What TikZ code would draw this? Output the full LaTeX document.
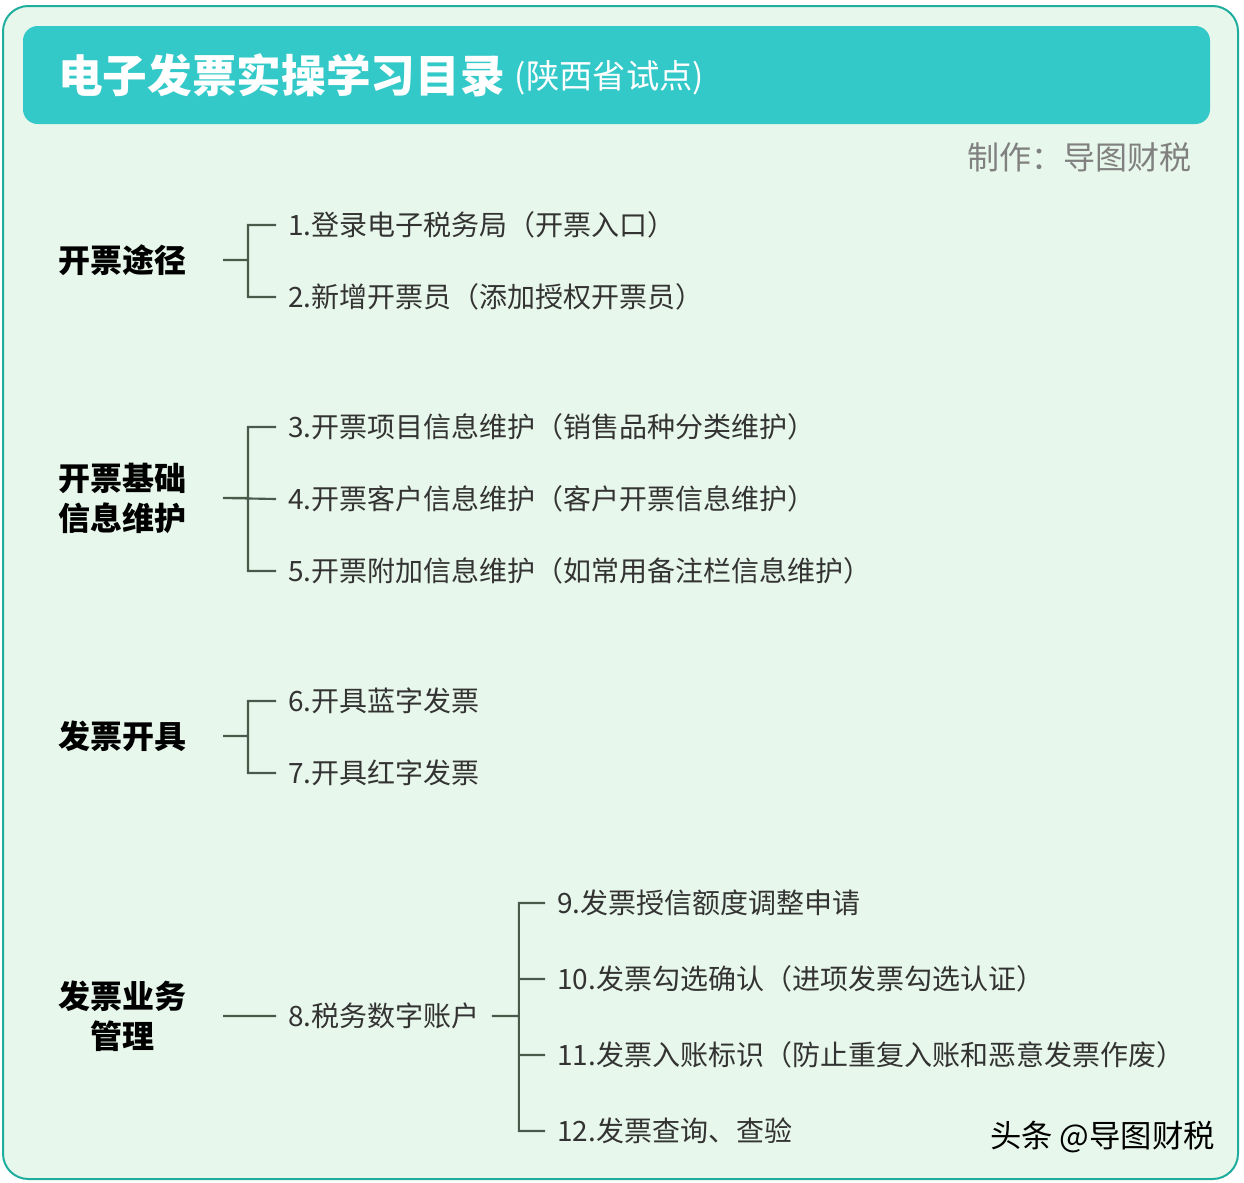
\documentclass[tikz,border=0pt]{standalone}
\usepackage{fontspec}
\setmainfont{Noto Sans CJK SC}
\usepackage{tikz}
\usetikzlibrary{positioning}
\definecolor{framegreen}{HTML}{1FAE9E}
\definecolor{paper}{HTML}{E8F7EB}
\definecolor{headteal}{HTML}{33C9C8}
\definecolor{linegray}{HTML}{4A5A4A}
\definecolor{textgray}{HTML}{333333}
\definecolor{notegray}{HTML}{808080}

\begin{document}
\begin{tikzpicture}[%
    x=0.75pt, y=-0.75pt,
    cat/.style={anchor=east, inner xsep=27pt, inner ysep=0pt, align=center,
      text=black, font=\fontsize{24}{30}\selectfont\bfseries},
    item/.style={anchor=west, inner xsep=9pt, inner ysep=0pt,
      text=textgray, font=\fontsize{21}{25}\selectfont},
    branch/.style={draw=linegray, line width=1.6pt}
  ]
    \useasboundingbox (0,0) rectangle (1244,1182);
    \draw[framegreen, line width=1.5pt, fill=paper, rounded corners=19pt] (3,6) rectangle (1238,1179);
    \fill[headteal, rounded corners=11pt] (23,26) rectangle (1210,124);

    \node[anchor=west, inner sep=0pt, text=white, font=\fontsize{33.5}{36}\selectfont\bfseries] (title) at (58,75) {电子发票实操学习目录};
    \node[anchor=base west, inner sep=0pt, text=white, font=\fontsize{25}{28}\selectfont] (sub) at ([xshift=7pt, yshift=3pt]title.base east) {(陕西省试点)};
    \node[anchor=east, inner sep=0pt, text=notegray, font=\fontsize{24}{28}\selectfont] (maker) at (1192,157) {制作：导图财税};

    % group 1
    \node[cat] (c1) at (223,260) {开票途径};
    \node[item] (i1) at (276,225) {1.登录电子税务局（开票入口）};
    \node[item] (i2) at ([yshift=-54pt]i1.west) {2.新增开票员（添加授权开票员）};

    % group 2
    \node[cat] (c2) at (223,498) {开票基础\\信息维护};
    \node[item] (i3) at (276,427) {3.开票项目信息维护（销售品种分类维护）};
    \node[item] (i4) at ([yshift=-54pt]i3.west) {4.开票客户信息维护（客户开票信息维护）};
    \node[item] (i5) at ([yshift=-54pt]i4.west) {5.开票附加信息维护（如常用备注栏信息维护）};

    % group 3
    \node[cat] (c3) at (223,736) {发票开具};
    \node[item] (i6) at (276,701) {6.开具蓝字发票};
    \node[item] (i7) at ([yshift=-54pt]i6.west) {7.开具红字发票};

    % group 4
    \node[cat] (c4) at (223,1016) {发票业务\\管理};
    \node[item] (i8) at (276,1016) {8.税务数字账户};
    \node[item] (i9) at (545,903) {9.发票授信额度调整申请};
    \node[item] (i10) at ([yshift=-57pt]i9.west) {10.发票勾选确认（进项发票勾选认证）};
    \node[item] (i11) at ([yshift=-57pt]i10.west) {11.发票入账标识（防止重复入账和恶意发票作废）};
    \node[item] (i12) at ([yshift=-57pt]i11.west) {12.发票查询、查验};

    \node[anchor=east, inner sep=0pt, text=black, font=\fontsize{23.5}{26}\selectfont] (mark) at (1215,1137) {头条 @导图财税};

    \path[branch]
      (c1.east) -- ++(25,0) |- (i1.west)
      (c1.east) -- ++(25,0) |- (i2.west)
      (c2.east) -- ++(25,0) |- (i3.west)
      (c2.east) -- (i4.west)
      (c2.east) -- ++(25,0) |- (i5.west)
      (c3.east) -- ++(25,0) |- (i6.west)
      (c3.east) -- ++(25,0) |- (i7.west)
      (c4.east) -- (i8.west)
      (i8.east) -- ++(27,0) |- (i9.west)
      (i8.east) -- ++(27,0) |- (i10.west)
      (i8.east) -- ++(27,0) |- (i11.west)
      (i8.east) -- ++(27,0) |- (i12.west)
      ;
\end{tikzpicture}
\end{document}
